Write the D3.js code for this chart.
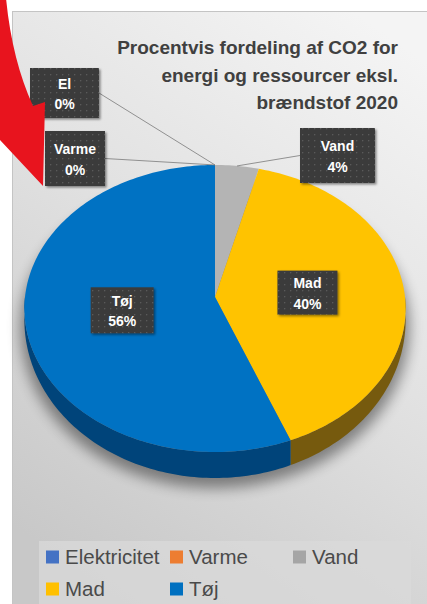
<!DOCTYPE html>
<html>
<head>
<meta charset="utf-8">
<script src="https://cdn.jsdelivr.net/npm/d3@7"></script>
<style>
  body { margin: 0; background: #fff; }
  svg { display: block; }
</style>
</head>
<body>
<div id="target"></div>
<script>
// data
const categories = ["Elektricitet", "Varme", "Vand", "Mad", "Tøj"]
const shortNames = ["El", "Varme", "Vand", "Mad", "Tøj"]
const values = [0, 0, 4, 40, 56]
const colors = ["#4472c4", "#ed7d31", "#a5a5a5", "#ffc000", "#0070c0"]
const titleLines = ["Procentvis fordeling af CO2 for", "energi og ressourcer eksl.", "brændstof 2020"]

// shading of the 3D rim (style only)
const sideColors = ["#2b4577", "#8d4c1d", "#656565", "#765a0e", "#00447a"]

const width = 427, height = 604

const svg = d3.select("#target").append("svg")
    .attr("width", width)
    .attr("height", height)

const defs = svg.append("defs")

//Background gradient
const bg = defs.append("linearGradient").attr("id", "bg")
    .attr("x1", 0.8).attr("y1", 0).attr("x2", 0.3).attr("y2", 1)
bg.append("stop").attr("offset", 0).attr("stop-color", "#f4f4f4")
bg.append("stop").attr("offset", 0.45).attr("stop-color", "#e2e2e2")
bg.append("stop").attr("offset", 1).attr("stop-color", "#c8c8c8")

const blur = defs.append("filter").attr("id", "pieShadow")
    .attr("x", -0.2).attr("y", -0.2).attr("width", 1.4).attr("height", 1.4)
blur.append("feGaussianBlur").attr("stdDeviation", 7)

const boxShadow = defs.append("filter").attr("id", "boxShadow")
    .attr("x", -0.2).attr("y", -0.2).attr("width", 1.5).attr("height", 1.5)
boxShadow.append("feDropShadow").attr("dx", 1.5).attr("dy", 1.5)
    .attr("stdDeviation", 1.2).attr("flood-color", "#000").attr("flood-opacity", 0.45)

const dots = defs.append("pattern").attr("id", "dots")
    .attr("width", 6).attr("height", 6).attr("patternUnits", "userSpaceOnUse")
dots.append("rect").attr("width", 6).attr("height", 6).attr("fill", "#3a3a3a")
dots.append("rect").attr("x", 2).attr("y", 2).attr("width", 1.3).attr("height", 1.3).attr("fill", "#5a5a5a")

//Panel
svg.append("rect")
    .attr("x", 12.5).attr("y", 11.5)
    .attr("width", width).attr("height", height)
    .attr("fill", "url(#bg)")
    .attr("stroke", "#c4c4c4")

//Title
svg.append("g").selectAll("text")
    .data(titleLines)
    .join("text")
    .attr("x", 398)
    .attr("y", (d, i) => 54 + i * 27.5)
    .attr("text-anchor", "end")
    .attr("font-family", "Liberation Sans, Arial, sans-serif")
    .attr("font-weight", "bold")
    .attr("font-size", 19)
    .attr("fill", "#404040")
    .text(d => d)

//Pie geometry (tilted disc with a bit of perspective)
const cx = 215, cy = 297, rx = 190, ry = 142.6, persp = 0.08

const proj = (a, r, h) => {
    const s = 1 / (1 + persp * Math.cos(a))
    return [cx + rx * r * Math.sin(a) * s, cy - ry * r * Math.cos(a) * s + h]
}
// rim looks thicker at the front than at the sides
const rim = a => 10 + 16 * Math.max(0, -Math.cos(a))

const arcPoints = (a0, a1, r, hFn) => {
    const n = Math.max(2, Math.ceil(Math.abs(a1 - a0) / 0.02))
    return d3.range(n + 1).map(i => {
        const a = a0 + (a1 - a0) * i / n
        return proj(a, r, hFn ? hFn(a) : 0)
    })
}

const line = d3.line()

const pie = d3.pie().sort(null).value(d => d)
const arcs = pie(values)

//Shadow
const shadowPts = arcPoints(0, 2 * Math.PI, 1.02, a => rim(a) + 7)
svg.append("path")
    .attr("d", line(shadowPts) + "Z")
    .attr("fill", "#000")
    .attr("opacity", 0.42)
    .attr("filter", "url(#pieShadow)")

//Sides
const sideG = svg.append("g")
arcs.forEach((d, i) => {
    const a0 = Math.max(d.startAngle, Math.PI / 2)
    const a1 = Math.min(d.endAngle, 3 * Math.PI / 2)
    if (a1 <= a0) return
    const pts = arcPoints(a0, a1, 1).concat(arcPoints(a1, a0, 1, rim))
    sideG.append("path")
        .attr("d", line(pts) + "Z")
        .attr("fill", sideColors[i])
})

//Top faces
const topG = svg.append("g")
arcs.forEach((d, i) => {
    if (d.endAngle - d.startAngle <= 0) return
    const pts = [proj(0, 0, 0)].concat(arcPoints(d.startAngle, d.endAngle, 1))
    topG.append("path")
        .attr("d", line(pts) + "Z")
        .attr("fill", i === 2 ? "#b4b4b4" : d3.color(colors[i]).brighter(0.05))
})

//Data labels
const labelLayout = [
    { x: 30, y: 68, w: 69, h: 50, side: "right" },
    { x: 45, y: 131, w: 60, h: 55, side: "right" },
    { x: 300, y: 128, w: 75, h: 55, side: "left" },
    { r: 0.49, w: 60, h: 44 },
    { r: 0.49, w: 63, h: 46 }
]

const labelG = svg.append("g")
arcs.forEach((d, i) => {
    const L = labelLayout[i]
    const mid = (d.startAngle + d.endAngle) / 2
    let bx = L.x, by = L.y
    if (L.r !== undefined) {
        const c = proj(mid, L.r, 0)
        bx = c[0] - L.w / 2
        by = c[1] - L.h / 2
    } else {
        const edge = proj(mid, 1, 0)
        const sx = L.side === "right" ? bx + L.w : bx
        labelG.append("line")
            .attr("x1", sx).attr("y1", by + L.h / 2)
            .attr("x2", edge[0]).attr("y2", edge[1])
            .attr("stroke", "#7a7a7a").attr("stroke-width", 0.8)
    }
    labelG.append("rect")
        .attr("x", bx).attr("y", by)
        .attr("width", L.w).attr("height", L.h)
        .attr("fill", "url(#dots)")
        .attr("filter", "url(#boxShadow)")
    const pct = Math.round(100 * d.value / d3.sum(values)) + "%"
    labelG.selectAll(null)
        .data([shortNames[i], pct])
        .join("text")
        .attr("x", bx + L.w / 2)
        .attr("y", (t, j) => by + L.h / 2 - 4.5 + j * 20.5)
        .attr("text-anchor", "middle")
        .attr("font-family", "Liberation Sans, Arial, sans-serif")
        .attr("font-weight", "bold")
        .attr("font-size", 14)
        .attr("fill", "#fff")
        .text(t => t)
})

//Legend
svg.append("rect")
    .attr("x", 39).attr("y", 541)
    .attr("width", 372).attr("height", 70)
    .attr("fill", "#d9d9d9")
    .attr("opacity", 0.75)

const legendCols = [46, 170, 293]
const legend = svg.append("g").selectAll("g")
    .data(categories)
    .join("g")
    .attr("transform", (d, i) => `translate(${legendCols[i % 3]},${i < 3 ? 557 : 589})`)
legend.append("rect")
    .attr("x", 0).attr("y", -6.5)
    .attr("width", 13).attr("height", 13)
    .attr("fill", (d, i) => colors[i])
legend.append("text")
    .attr("x", 19).attr("y", 7)
    .attr("font-family", "Liberation Sans, Arial, sans-serif")
    .attr("font-size", 20.5)
    .attr("fill", "#4a4a4a")
    .text(d => d)

//Red arrow overlay
svg.append("path")
    .attr("d", "M6,-2 Q12,60 33,106 L45,102 L43,186 L-14,125 L-4,119 Q-22,50 -30,-2 Z")
    .attr("fill", "#e8141e")
</script>
</body>
</html>
